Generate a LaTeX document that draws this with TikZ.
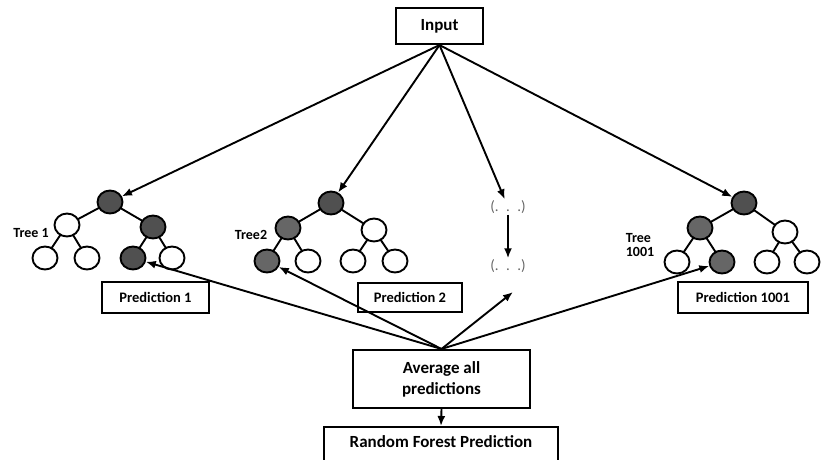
\documentclass[tikz,border=0pt]{standalone}
\usepackage{fontspec}
\setmainfont{Carlito}
\usetikzlibrary{arrows.meta,shapes.geometric}
\definecolor{darknode}{HTML}{505050}
\tikzset{
  every picture/.style={x=1pt,y=-1pt},
  box/.style={draw,line width=2.1pt,rectangle,inner sep=0pt,font=\bfseries},
  lf/.style={draw,ellipse,line width=1.9pt,minimum width=25pt,minimum height=23pt,inner sep=0pt,fill=white},
  dk/.style={lf,fill=darknode},
  edge/.style={line width=1.9pt},
  arr/.style={line width=1.9pt,-{Latex[length=10pt,width=8pt]}},
  tlabel/.style={font=\bfseries\fontsize{14}{16}\selectfont,align=left},
  dots/.style={text=black!60,font=\fontsize{15}{17}\selectfont,inner sep=1pt}
}
\begin{document}
\begin{tikzpicture}
\useasboundingbox[fill=white] (0,0) rectangle (824,459);
% boxes
\node[box,minimum width=87pt,minimum height=36pt,font=\bfseries\fontsize{17}{19}\selectfont] (in) at (439.5,26) {Input};
\node[box,minimum width=107pt,minimum height=31pt,font=\bfseries\fontsize{14.5}{16}\selectfont] (p1) at (155.5,297.5) {Prediction 1};
\node[box,minimum width=104pt,minimum height=29pt,font=\bfseries\fontsize{14.5}{16}\selectfont] (p2) at (410,297.5) {Prediction 2};
\node[box,minimum width=130pt,minimum height=31pt,font=\bfseries\fontsize{14.5}{16}\selectfont] (p3) at (743,297.5) {Prediction 1001};
\node[box,minimum width=177pt,minimum height=58pt,align=center,font=\bfseries\fontsize{17}{21}\selectfont] (avg) at (441.5,379) {Average all\\predictions};
\node[box,minimum width=234pt,minimum height=40pt,anchor=north,font=\bfseries\fontsize{17}{19}\selectfont,text depth=0pt] (rf) at (441,426) {\raisebox{11pt}{Random Forest Prediction}};
% tree 1
\coordinate (t1r) at (110,202);
\coordinate (t1a) at (67,225);
\coordinate (t1b) at (153,227);
\coordinate (t1c) at (45,258);
\coordinate (t1d) at (87,258);
\coordinate (t1e) at (133,258);
\coordinate (t1f) at (172,258);
\draw[edge] (t1r)--(t1a) (t1r)--(t1b) (t1a)--(t1c) (t1a)--(t1d) (t1b)--(t1e) (t1b)--(t1f);
\node[dk] (n1r) at (t1r) {};
\node[lf] (n1a) at (t1a) {};
\node[dk] (n1b) at (t1b) {};
\node[lf] (n1c) at (t1c) {};
\node[lf] (n1d) at (t1d) {};
\node[dk] (n1e) at (t1e) {};
\node[lf] (n1f) at (t1f) {};
\node[tlabel] (l1) at (31,233) {Tree 1};
% tree 2
\coordinate (t2r) at (331,203);
\coordinate (t2a) at (288,228);
\coordinate (t2b) at (374,230);
\coordinate (t2c) at (267,261);
\coordinate (t2d) at (308,261);
\coordinate (t2e) at (353,261);
\coordinate (t2f) at (395,261);
\draw[edge] (t2r)--(t2a) (t2r)--(t2b) (t2a)--(t2c) (t2a)--(t2d) (t2b)--(t2e) (t2b)--(t2f);
\node[dk] (n2r) at (t2r) {};
\node[dk,fill=black!60] (n2a) at (t2a) {};
\node[lf] (n2b) at (t2b) {};
\node[dk,fill=black!60] (n2c) at (t2c) {};
\node[lf] (n2d) at (t2d) {};
\node[lf] (n2e) at (t2e) {};
\node[lf] (n2f) at (t2f) {};
\node[tlabel] (l2) at (251,235) {Tree2};
% tree 1001
\coordinate (t3r) at (744,203);
\coordinate (t3a) at (700,228);
\coordinate (t3b) at (785,232);
\coordinate (t3c) at (677,262);
\coordinate (t3d) at (722,262);
\coordinate (t3e) at (767,262);
\coordinate (t3f) at (807,262);
\draw[edge] (t3r)--(t3a) (t3r)--(t3b) (t3a)--(t3c) (t3a)--(t3d) (t3b)--(t3e) (t3b)--(t3f);
\node[dk] (n3r) at (t3r) {};
\node[dk,fill=black!60] (n3a) at (t3a) {};
\node[lf] (n3b) at (t3b) {};
\node[lf] (n3c) at (t3c) {};
\node[dk,fill=black!60] (n3d) at (t3d) {};
\node[lf] (n3e) at (t3e) {};
\node[lf] (n3f) at (t3f) {};
\node[tlabel,align=left] (l3) at (640,245) {Tree\\[-2pt]1001};
% middle
\node[dots] (m1) at (508,207) {(.\,\,\,.\,\,\,.)};
\node[dots] (m2) at (508,266) {(.\,\,\,.\,\,\,.)};
\coordinate (mend) at (513,292);
\draw[arr] (m1) -- (m2);
% arrows from input
\draw[arr] (in.south) -- (n1r);
\draw[arr] (in.south) -- (n2r);
\draw[arr] (in.south) -- (m1);
\draw[arr] (in.south) -- (n3r);
% arrows from average
\draw[arr] (avg.north) -- (n1e);
\draw[arr] (avg.north) -- (n2c);
\draw[arr] (avg.north) -- (mend);
\draw[arr] (avg.north) -- (n3d);
\draw[arr] (avg.south) -- (rf.north);
\end{tikzpicture}
\end{document}
